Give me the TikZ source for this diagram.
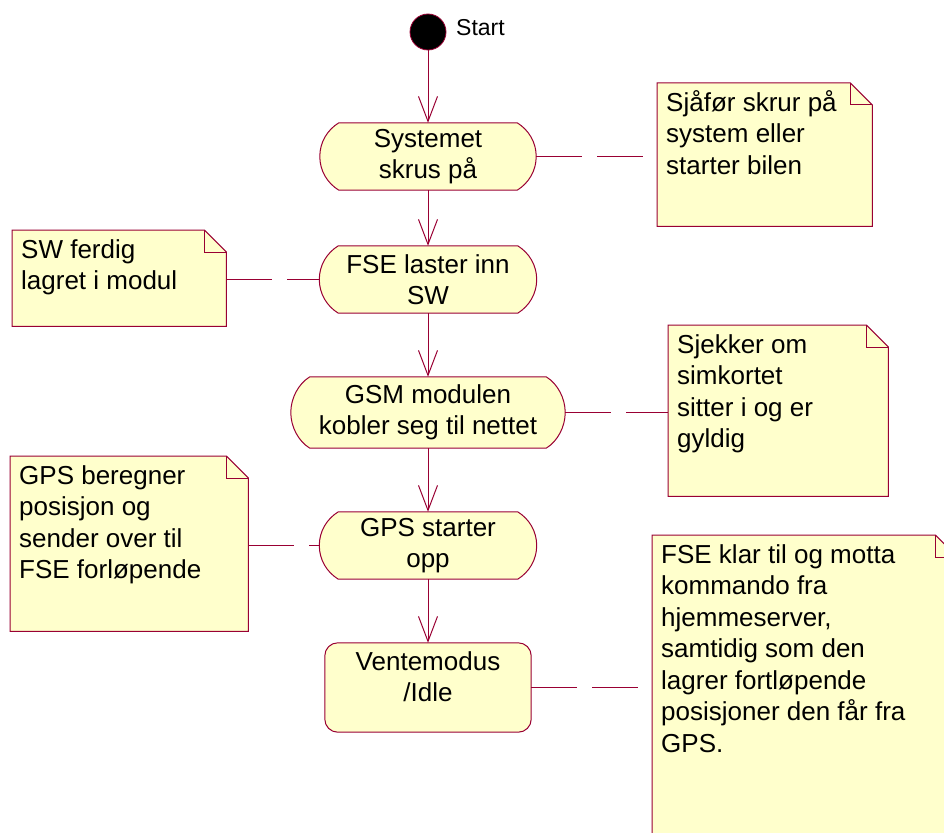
\documentclass[tikz,border=0pt]{standalone}
\usepackage{fontspec}
\setmainfont{Liberation Sans}
\usetikzlibrary{arrows.meta,calc,backgrounds}

\definecolor{umlline}{HTML}{990033}
\definecolor{umlfill}{HTML}{FFFFCC}

% top-aligned text block of a note: width, height, lines
\newcommand\notepar[3]{\parbox[t][#2pt][t]{#1pt}{\raggedright\strut #3}}

% activity outline: flat top and bottom, bulging sides
\newcommand\actionoutline[1]{%
  \draw[shapeline]
    ($(#1.north west)+(19,0)$) -- ($(#1.north east)+(-19,0)$)
    .. controls ($(#1.north east)+(-7.3,7.2)$) and ($(#1.east)+(0,-14)$) .. (#1.east)
    .. controls ($(#1.east)+(0,14)$) and ($(#1.south east)+(-7.3,-7.2)$) .. ($(#1.south east)+(-19,0)$)
    -- ($(#1.south west)+(19,0)$)
    .. controls ($(#1.south west)+(7.3,-7.2)$) and ($(#1.west)+(0,14)$) .. (#1.west)
    .. controls ($(#1.west)+(0,-14)$) and ($(#1.north west)+(7.3,7.2)$) .. ($(#1.north west)+(19,0)$)
    -- cycle;}

% note outline with folded top right corner
\newcommand\noteoutline[1]{%
  \draw[shapeline] (#1.north west) -- ($(#1.north east)+(-22,0)$) -- ($(#1.north east)+(0,22)$)
    -- (#1.south east) -- (#1.south west) -- cycle;
  \draw[foldline] ($(#1.north east)+(-22,0)$) -- ($(#1.north east)+(-22,22)$) -- ($(#1.north east)+(0,22)$);}

\begin{document}
\begin{tikzpicture}[x=1pt,y=-1pt,
  every node/.style={font=\fontsize{26}{31.5}\selectfont, text=black},
  action/.style={inner sep=0pt, align=center},
  note/.style={anchor=north west, inner xsep=9pt, inner ysep=5.8pt},
  flow/.style={draw=umlline, line width=1pt, -{Straight Barb[length=25pt,width=19pt]}},
  link/.style={draw=umlline, line width=1pt, dash pattern=on 46pt off 15pt},
  shapeline/.style={draw=umlline, line width=1pt, fill=umlfill},
  foldline/.style={draw=umlline, line width=1pt}]

\useasboundingbox (0,0) rectangle (944,832);

% initial state
\node[circle, fill=black, draw=umlline, line width=0.8pt, minimum size=36pt, inner sep=0pt] (start) at (428,32) {};
\node[anchor=base west, inner sep=0pt, font=\fontsize{23}{27}\selectfont] (startlabel) at (456,36) {Start};

% activities
\node[action, minimum width=216pt, minimum height=67pt] (s1) at (428,156.5) {Systemet\\skrus på};
\node[action, minimum width=217pt, minimum height=67pt] (f) at (428,279.5) {FSE laster inn\\SW};
\node[action, minimum width=274pt, minimum height=71pt] (g) at (428,412.5) {GSM modulen\\kobler seg til nettet};
\node[action, minimum width=217pt, minimum height=67pt] (p) at (428,545.5) {GPS starter\\opp};
\node[action, minimum width=206pt, minimum height=89pt] (v) at (428,687.5) {};
\node[anchor=north, inner sep=0pt, align=center] (vtext) at ($(v.north)+(0,5)$) {\strut Ventemodus\\/Idle};

% notes
\node[note] (n1) at (657,83) {\notepar{197}{131.4}{Sjåfør skrur på\\system eller\\starter bilen}};
\node[note] (n2) at (12,230) {\notepar{196}{84.4}{SW ferdig\\lagret i modul}};
\node[note] (n3) at (668,325) {\notepar{202}{159.4}{Sjekker om\\simkortet\\sitter i og er\\gyldig}};
\node[note] (n4) at (10,456) {\notepar{220}{163.4}{GPS beregner\\posisjon og\\sender over til\\FSE forløpende}};
\node[note] (n5) at (652,535) {\notepar{287}{313.4}{FSE klar til og motta\\kommando fra\\hjemmeserver,\\samtidig som den\\lagrer fortløpende\\posisjoner den får fra\\GPS.}};

% outlines behind the texts
\begin{pgfonlayer}{background}
  \actionoutline{s1}
  \actionoutline{f}
  \actionoutline{g}
  \actionoutline{p}
  \draw[shapeline, rounded corners=13pt] (v.north west) rectangle (v.south east);
  \noteoutline{n1}
  \noteoutline{n2}
  \noteoutline{n3}
  \noteoutline{n4}
  \noteoutline{n5}
\end{pgfonlayer}

% transitions
\draw[flow] (start.south) -- (s1.north);
\draw[flow] (s1.south) -- (f.north);
\draw[flow] (f.south) -- (g.north);
\draw[flow] (g.south) -- (p.north);
\draw[flow] (p.south) -- (v.north);

% note attachments
\draw[link] (s1.east) -- (n1.west |- s1.east);
\draw[link] (n2.east |- f.west) -- (f.west);
\draw[link] (g.east) -- (n3.west |- g.east);
\draw[link] (n4.east |- p.west) -- (p.west);
\draw[link] (v.east) -- (n5.west |- v.east);
\end{tikzpicture}
\end{document}
